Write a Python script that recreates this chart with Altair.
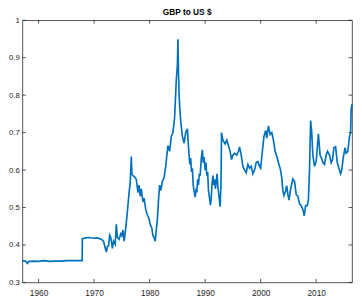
import altair as alt
import pandas as pd

# (decimal year, GBP per US $)
years = [1957.08, 1957.6, 1958.0, 1958.2, 1959.0, 1960.0, 1961.0, 1962.0, 1963.0, 1964.0,
         1965.0, 1966.0, 1967.0, 1967.85, 1967.88, 1968.5, 1969.0, 1970.0, 1970.5, 1971.0,
         1971.4, 1971.7, 1972.0, 1972.2, 1972.4, 1972.6, 1972.8, 1973.0, 1973.3, 1973.5,
         1973.8, 1974.0, 1974.2, 1974.5, 1974.8, 1975.0, 1975.2, 1975.4, 1975.7, 1976.0,
         1976.3, 1976.5, 1976.7, 1976.8, 1977.0, 1977.3, 1977.6, 1977.9, 1978.1, 1978.3,
         1978.5, 1978.8, 1979.0, 1979.3, 1979.6, 1979.9, 1980.1, 1980.4, 1980.6, 1980.8,
         1981.0, 1981.2, 1981.4, 1981.6, 1981.8, 1982.0, 1982.3, 1982.6, 1982.9, 1983.1,
         1983.3, 1983.6, 1983.9, 1984.2, 1984.5, 1984.8, 1985.0, 1985.1, 1985.2, 1985.35,
         1985.6, 1985.9, 1986.2, 1986.5, 1986.8,
         1987.1, 1987.25, 1987.4, 1987.55, 1987.7, 1987.85, 1988.0, 1988.2, 1988.35, 1988.5,
         1988.65, 1988.8, 1988.95, 1989.1, 1989.3, 1989.5, 1989.65, 1989.8, 1990.0, 1990.15,
         1990.3, 1990.45, 1990.6, 1990.75, 1990.95, 1991.1, 1991.25, 1991.4, 1991.55, 1991.7,
         1991.85, 1992.0, 1992.15, 1992.3, 1992.5, 1992.7, 1992.85, 1992.95, 1993.2, 1993.6,
         1993.9, 1994.2, 1994.5, 1994.75, 1995.0, 1995.3, 1995.7, 1996.0, 1996.2, 1996.5,
         1996.8, 1997.1, 1997.4, 1997.7, 1998.0, 1998.3, 1998.6, 1998.9, 1999.2, 1999.5,
         1999.8, 2000.0, 2000.3, 2000.6, 2000.9, 2001.1, 2001.4, 2001.7, 2002.0, 2002.3,
         2002.6, 2002.9, 2003.2, 2003.55, 2003.8, 2004.0, 2004.2, 2004.5, 2004.7, 2004.9,
         2005.1, 2005.4, 2005.8, 2006.1, 2006.4, 2006.7, 2007.0, 2007.3, 2007.6, 2007.85,
         2008.1, 2008.4, 2008.6, 2008.8, 2009.0, 2009.2, 2009.4, 2009.7, 2010.0, 2010.4,
         2010.7, 2011.0, 2011.2, 2011.5, 2011.8, 2012.05, 2012.4, 2012.7, 2012.95, 2013.2,
         2013.5, 2013.8, 2014.1, 2014.4, 2014.6, 2014.9, 2015.2, 2015.4, 2015.7, 2016.0,
         2016.2, 2016.3, 2016.46]
rates = [0.358, 0.357, 0.351, 0.356, 0.357, 0.356, 0.358, 0.356, 0.357, 0.357,
         0.358, 0.358, 0.358, 0.358, 0.417, 0.419, 0.420, 0.418, 0.419, 0.417,
         0.414, 0.410, 0.392, 0.381, 0.396, 0.398, 0.426, 0.420, 0.391, 0.410,
         0.402, 0.455, 0.420, 0.415, 0.430, 0.425, 0.440, 0.410, 0.445, 0.490,
         0.540, 0.565, 0.636, 0.590, 0.585, 0.582, 0.575, 0.540, 0.560, 0.530,
         0.550, 0.515, 0.525, 0.495, 0.480, 0.470, 0.455, 0.445, 0.425, 0.420,
         0.410, 0.440, 0.470, 0.520, 0.560, 0.545, 0.570, 0.580, 0.610, 0.640,
         0.665, 0.650, 0.690, 0.700, 0.740, 0.840, 0.880, 0.949, 0.860, 0.785,
         0.730, 0.690, 0.672, 0.700, 0.710,
         0.640, 0.615, 0.632, 0.595, 0.605, 0.560, 0.545, 0.528, 0.545, 0.540,
         0.575, 0.560, 0.590, 0.585, 0.630, 0.654, 0.620, 0.635, 0.600, 0.620,
         0.585, 0.595, 0.545, 0.530, 0.506, 0.525, 0.565, 0.585, 0.560, 0.575,
         0.550, 0.570, 0.590, 0.555, 0.530, 0.502, 0.560, 0.700, 0.680, 0.670,
         0.680, 0.665, 0.650, 0.628, 0.640, 0.645, 0.640, 0.650, 0.662, 0.640,
         0.610, 0.600, 0.593, 0.615, 0.605, 0.610, 0.590, 0.600, 0.620, 0.623,
         0.610, 0.605, 0.650, 0.690, 0.706, 0.685, 0.718, 0.695, 0.700, 0.680,
         0.650, 0.636, 0.620, 0.602, 0.580, 0.545, 0.532, 0.545, 0.558, 0.535,
         0.520, 0.550, 0.576, 0.570, 0.535, 0.530, 0.510, 0.505, 0.495, 0.478,
         0.505, 0.505, 0.520, 0.600, 0.732, 0.700, 0.640, 0.610, 0.623, 0.697,
         0.640, 0.630, 0.620, 0.615, 0.640, 0.650, 0.640, 0.620, 0.628, 0.660,
         0.662, 0.620, 0.605, 0.590, 0.600, 0.635, 0.660, 0.645, 0.650, 0.690,
         0.700, 0.760, 0.776]

x_ticks = [1960, 1970, 1980, 1990, 2000, 2010]
y_ticks = [0.3, 0.4, 0.5, 0.6, 0.7, 0.8, 0.9, 1.0]

W, H = 337, 268
TL = 3.5
AX = "#262626"
FONT = "Liberation Sans"

df = pd.DataFrame({"year": years, "rate": rates})
xt = pd.DataFrame({"year": x_ticks})
yt = pd.DataFrame({"rate": y_ticks})

xscale = alt.Scale(domain=[1957.08, 2016.46], nice=False, zero=False)
yscale = alt.Scale(domain=[0.3, 1.0], nice=False, zero=False)

x_axis = alt.Axis(title=None, values=x_ticks, format="d", ticks=False,
                  domain=False, grid=False, labelPadding=6, labelOverlap=False,
                  labelFont=FONT, labelFontSize=8.5, labelColor=AX)
y_axis = alt.Axis(title=None, values=y_ticks, ticks=False,
                  labelExpr="datum.value >= 0.999 ? '1' : format(datum.value, '.1f')",
                  domain=False, grid=False, labelPadding=3, labelOverlap=False,
                  labelFont=FONT, labelFontSize=8, labelColor=AX)

X = alt.X("year:Q", scale=xscale, axis=x_axis)
Y = alt.Y("rate:Q", scale=yscale, axis=y_axis)

line = alt.Chart(df).mark_line(color="#0072BD", strokeWidth=1.7).encode(x=X, y=Y)

tick_style = dict(color=AX, strokeWidth=0.8)
xb = alt.Chart(xt).mark_rule(**tick_style).encode(x=X, y=alt.value(H), y2=alt.value(H - TL))
xtop = alt.Chart(xt).mark_rule(**tick_style).encode(x=X, y=alt.value(0), y2=alt.value(TL))
yl = alt.Chart(yt).mark_rule(**tick_style).encode(y=Y, x=alt.value(0), x2=alt.value(TL))
yr = alt.Chart(yt).mark_rule(**tick_style).encode(y=Y, x=alt.value(W), x2=alt.value(W - TL))

chart = alt.layer(line, xb, xtop, yl, yr).properties(
    width=W, height=H,
    title=alt.TitleParams("GBP to US $", font=FONT, fontSize=8.5, fontWeight="bold",
                          color="#000000", offset=0, anchor="middle"),
    autosize=alt.AutoSizeParams(type="none"),
    padding={"left": 14.7, "top": 9.3, "right": 2, "bottom": 13},
    background="white",
).configure_view(stroke=AX, strokeWidth=0.8).configure_axis(labelOverlap=False)

chart.save("out.html", embed_options={"renderer": "svg", "actions": False})
